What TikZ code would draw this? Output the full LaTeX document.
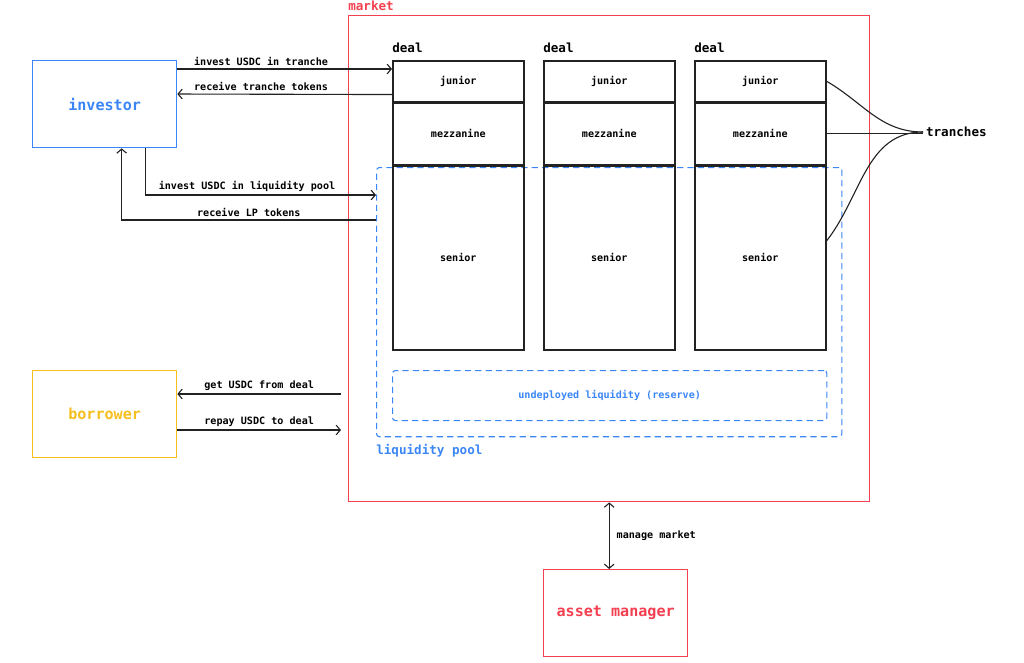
\documentclass[tikz,border=0pt]{standalone}
\usepackage{fontspec}
\setmonofont{DejaVu Sans Mono}
\usepackage{tikz}
\usetikzlibrary{arrows.meta,positioning,calc}
\definecolor{poolblue}{RGB}{59,134,246}
\definecolor{mktred}{RGB}{243,64,80}
\definecolor{brwyellow}{RGB}{246,190,30}
\definecolor{inkgrey}{RGB}{34,34,34}

\begin{document}
\begin{tikzpicture}[x=0.01in, y=-0.01in, font=\ttfamily\bfseries,
    >={Straight Barb[length=3pt,width=7pt]},
    lbl/.style={font=\fontsize{7.3}{8}\ttfamily\bfseries, inner sep=2pt},
    head/.style={font=\fontsize{9.1}{10}\ttfamily\bfseries, inner sep=0pt},
    actor/.style={rectangle, draw=#1, line width=0.9pt, text=#1, minimum width=1.44in,
                  minimum height=0.87in, font=\fontsize{10.9}{12}\ttfamily\bfseries},
    tranche/.style={rectangle, draw=inkgrey, line width=1.1pt, minimum width=1.31in,
                    font=\fontsize{7.3}{8}\ttfamily\bfseries},
    flow/.style={draw=inkgrey, line width=0.8pt},
    pooldash/.style={draw=poolblue, line width=0.8pt, dash pattern=on 4.5pt off 3pt,
                     rounded corners=2pt}]
\useasboundingbox (0,0) rectangle (1024,662);

% market with its liquidity pool
\node[draw=mktred, line width=0.8pt, minimum width=5.21in, minimum height=4.86in,
      anchor=north west] (market) at (348,15) {};
\node[head, text=mktred, anchor=south west] at ([yshift=3pt]market.north west) {market};
\node[pooldash, minimum width=4.65in, minimum height=2.69in, anchor=north west] (pool) at (376,167) {};
\node[head, text=poolblue, anchor=north west] at ([yshift=-5pt]pool.south west) {liquidity pool};
\node[pooldash, lbl, text=poolblue, minimum width=4.34in, minimum height=0.5in,
      anchor=north west] (reserve) at (392,370) {undeployed liquidity (reserve)};

% deals, one column of tranches each
\foreach \i/\x in {1/392,2/543,3/694} {
  \node[tranche, minimum height=0.41in, anchor=north west] (jun\i) at (\x,60) {junior};
  \node[tranche, minimum height=0.61in, below=0pt of jun\i] (mez\i) {mezzanine};
  \node[tranche, minimum height=1.84in, below=0pt of mez\i] (sen\i) {senior};
  \node[head, anchor=south west] at ([yshift=5pt]jun\i.north west) {deal};
}

% tranches brace
\node[head, inner sep=2pt, anchor=west] (tranches) at (923,132) {tranches};
\draw[flow] (jun3.east) to[out=-30, in=180] (tranches.west);
\draw[flow] (mez3.east) -- (mez3.east -| tranches.west);
\draw[flow] ([yshift=0.17in]sen3.east) to[out=52, in=180] (tranches.west);

% actors
\node[actor=poolblue, anchor=north west] (investor) at (32,60) {investor};
\node[actor=brwyellow, anchor=north west] (borrower) at (32,370) {borrower};
\node[actor=mktred, anchor=north west] (manager) at (543,569) {asset manager};

% investor flows
\draw[flow,->] ([yshift=-0.09in]investor.north east) -- node[lbl, above, pos=0.39] {invest USDC in tranche}
  ([yshift=-0.09in]jun1.north west);
\draw[flow,->] ([yshift=0.08in]jun1.south west) -- node[lbl, above, pos=0.61] {receive tranche tokens}
  ([yshift=-0.34in]investor.north east);
\draw[flow,->] ([xshift=0.41in]investor.south) |- node[lbl, above, pos=0.72] {invest USDC in liquidity pool}
  ([yshift=-0.28in]pool.north west);
\draw[flow,->] ([yshift=-0.53in]pool.north west) -| node[lbl, above, pos=0.25] {receive LP tokens}
  ([xshift=0.17in]investor.south);

% borrower flows
\coordinate (getUSDC) at (341,394);
\coordinate (repayUSDC) at (341,430);
\draw[flow,->] (getUSDC) -- node[lbl, above] {get USDC from deal} (getUSDC -| borrower.east);
\draw[flow,->] (repayUSDC -| borrower.east) -- node[lbl, above] {repay USDC to deal} (repayUSDC);

% asset manager
\draw[flow,<->] (market.south) -- node[lbl, right, xshift=3pt] {manage market} (market.south |- manager.north);
\end{tikzpicture}
\end{document}
